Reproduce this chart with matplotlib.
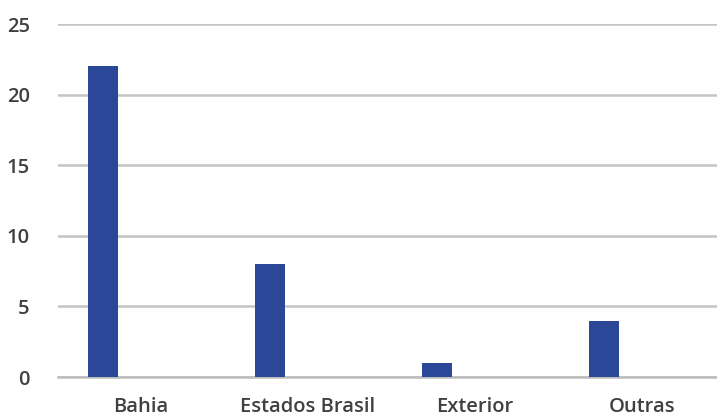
import numpy as np
import matplotlib
matplotlib.use("Agg")
import matplotlib.pyplot as plt

categories = ["Bahia", "Estados Brasil", "Exterior", "Outras"]
values = [22, 8, 1, 4]
yticks = [0, 5, 10, 15, 20, 25]

plt.rcParams["font.family"] = ["Open Sans", "DejaVu Sans"]

fig = plt.figure(figsize=(7.17, 4.19), dpi=100)
ax = fig.add_axes([57.5 / 717, 42 / 419, 667.5 / 717, 353 / 419])

x = np.arange(len(categories))
ax.bar(x - 0.225, values, width=0.18, color="#2a4897", zorder=3)

ax.set_xlim(-0.5, len(categories) - 0.5)
ax.set_ylim(0, 25)
ax.set_yticks(yticks)
ax.set_xticks(x)
ax.set_xticklabels(categories)
ax.yaxis.grid(True, color="#c4c4c4", linewidth=1.8, zorder=0)
for s in ["top", "right", "left"]:
    ax.spines[s].set_visible(False)
ax.spines["bottom"].set_color("#bcbcbc")
ax.spines["bottom"].set_linewidth(1.8)
ax.tick_params(axis="both", length=0, labelsize=14.5, colors="#404040")
ax.tick_params(axis="y", pad=20)
ax.tick_params(axis="x", pad=14.5)
for lab in ax.get_xticklabels() + ax.get_yticklabels():
    lab.set_fontweight("semibold")

fig.savefig("out.png", dpi=100)
